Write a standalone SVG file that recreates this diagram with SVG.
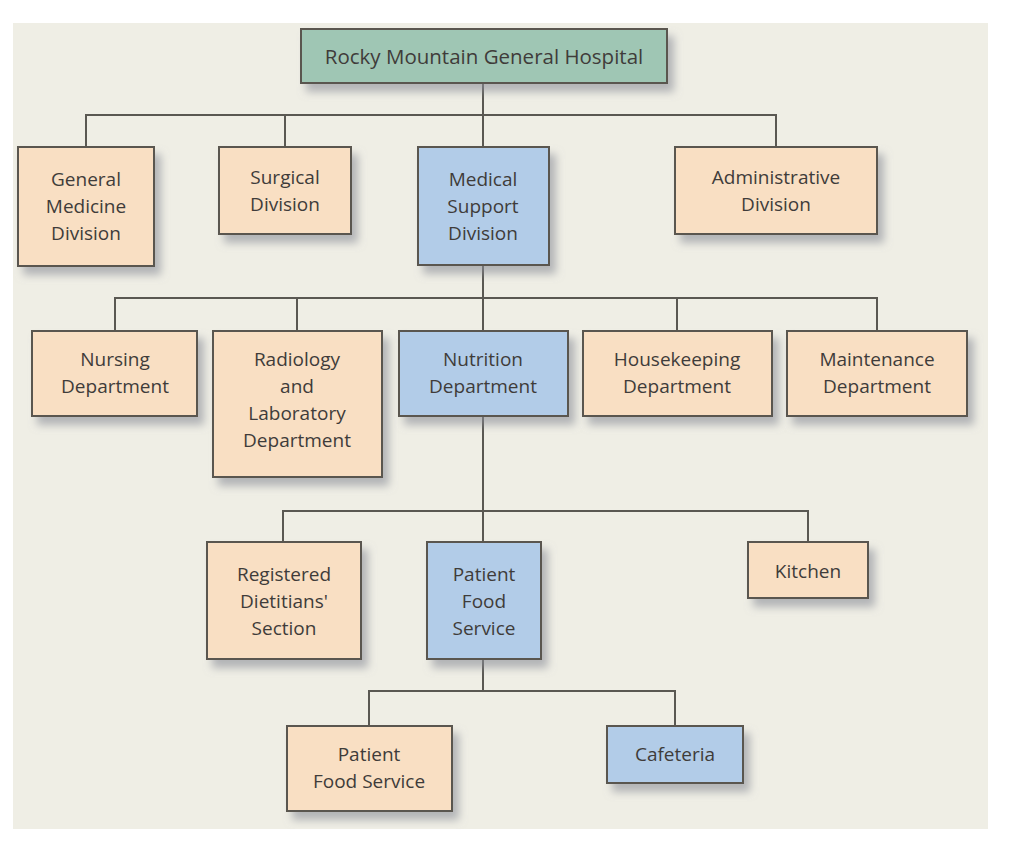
<svg xmlns="http://www.w3.org/2000/svg" width="1024" height="848" viewBox="0 0 1024 848">
<defs>
<filter id="sh" x="-20%" y="-20%" width="150%" height="160%">
<feDropShadow dx="6" dy="8" stdDeviation="4.5" flood-color="#8a8d98" flood-opacity="0.6"/>
</filter>
<style>
.box{stroke:#5a5650;stroke-width:2;filter:url(#sh)}
.peach{fill:#f9dfc3}
.blue{fill:#b2cce8}
.green{fill:#9fc6b4}
text{font-family:"Open Sans","Liberation Sans",sans-serif;font-size:19px;fill:#3f3c3a;text-anchor:middle}
.title{font-size:20.5px}
.ln{stroke:#5a5852;stroke-width:2;fill:none}
</style>
</defs>
<rect x="0" y="0" width="1024" height="848" fill="#ffffff"/>
<rect x="13" y="23" width="975" height="806" fill="#efeee5"/>
<g id="connectors">
<path class="ln" d="M483,83V147M86,147V115H776V147M285,115V147"/>
<path class="ln" d="M483,265V331M115,331V298H877V331M297,298V331M677,298V331"/>
<path class="ln" d="M483,416V542M283,542V511H808V542"/>
<path class="ln" d="M483,659V691M369,726V691H675V726"/>
</g>
<g id="n-hospital"><rect class="box green" x="301" y="29" width="366" height="54"/><text class="title" x="484" y="64">Rocky Mountain General Hospital</text></g>
<g id="n-general"><rect class="box peach" x="18" y="147" width="136" height="119"/><text x="86" y="186">General</text><text x="86" y="213">Medicine</text><text x="86" y="240">Division</text></g>
<g id="n-surgical"><rect class="box peach" x="219" y="147" width="132" height="87"/><text x="285" y="184">Surgical</text><text x="285" y="211">Division</text></g>
<g id="n-medsupport"><rect class="box blue" x="418" y="147" width="131" height="118"/><text x="483" y="186">Medical</text><text x="483" y="213">Support</text><text x="483" y="240">Division</text></g>
<g id="n-admin"><rect class="box peach" x="675" y="147" width="202" height="87"/><text x="776" y="184">Administrative</text><text x="776" y="211">Division</text></g>
<g id="n-nursing"><rect class="box peach" x="32" y="331" width="165" height="85"/><text x="115" y="366">Nursing</text><text x="115" y="393">Department</text></g>
<g id="n-radiology"><rect class="box peach" x="213" y="331" width="169" height="146"/><text x="297" y="366">Radiology</text><text x="297" y="393">and</text><text x="297" y="420">Laboratory</text><text x="297" y="447">Department</text></g>
<g id="n-nutrition"><rect class="box blue" x="399" y="331" width="169" height="85"/><text x="483" y="366">Nutrition</text><text x="483" y="393">Department</text></g>
<g id="n-housekeeping"><rect class="box peach" x="583" y="331" width="189" height="85"/><text x="677" y="366">Housekeeping</text><text x="677" y="393">Department</text></g>
<g id="n-maintenance"><rect class="box peach" x="787" y="331" width="180" height="85"/><text x="877" y="366">Maintenance</text><text x="877" y="393">Department</text></g>
<g id="n-dietitians"><rect class="box peach" x="207" y="542" width="154" height="117"/><text x="284" y="581">Registered</text><text x="284" y="608">Dietitians'</text><text x="284" y="635">Section</text></g>
<g id="n-pfs"><rect class="box blue" x="427" y="542" width="114" height="117"/><text x="484" y="581">Patient</text><text x="484" y="608">Food</text><text x="484" y="635">Service</text></g>
<g id="n-kitchen"><rect class="box peach" x="748" y="542" width="120" height="56"/><text x="808" y="578">Kitchen</text></g>
<g id="n-pfs2"><rect class="box peach" x="287" y="726" width="165" height="85"/><text x="369" y="761">Patient</text><text x="369" y="788">Food Service</text></g>
<g id="n-cafeteria"><rect class="box blue" x="607" y="726" width="136" height="57"/><text x="675" y="761">Cafeteria</text></g>
</svg>
